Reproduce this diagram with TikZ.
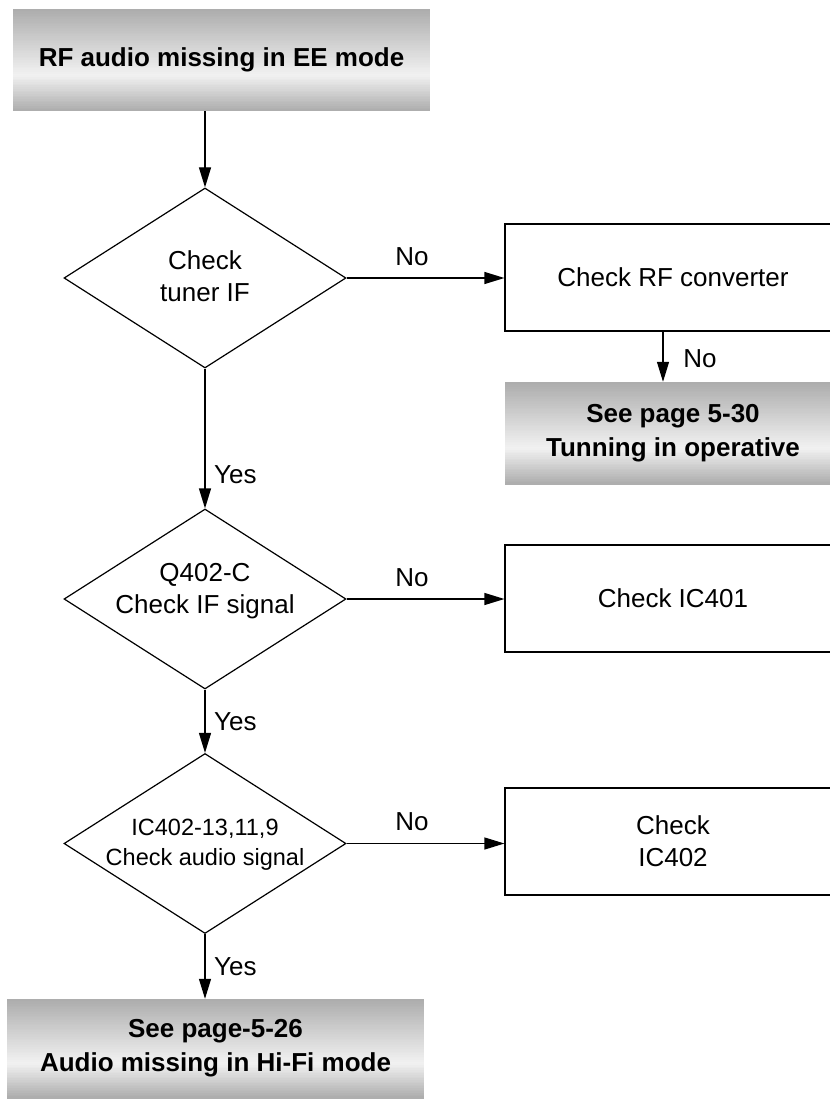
\documentclass[tikz,border=0pt]{standalone}
\usepackage{fontspec}
\setmainfont{Liberation Sans}
\usetikzlibrary{shapes.geometric,arrows.meta,calc}
\definecolor{gtop}{RGB}{172,172,172}
\definecolor{gmid}{RGB}{242,242,242}
\definecolor{gbot}{RGB}{166,166,166}
\begin{document}
\begin{tikzpicture}[x=1pt,y=-1pt,
  every node/.style={font=\fontsize{26}{32}\selectfont},
  grad/.style={shape=rectangle, inner sep=0pt, fill=gtop, draw=none,
    path picture={
      \foreach \i in {0,...,59}{
        \pgfmathsetmacro\ta{\i/60}
        \pgfmathsetmacro\tb{(\i+1.3)/60}
        \pgfmathsetmacro\tm{(\i+0.5)/60}
        \pgfmathsetmacro\p{(\tm<0.65) ? (100*\tm/0.65) : (100*(1-\tm)/0.35)}
        \fill[gmid!\p!gtop] ($(path picture bounding box.north west)!\ta!(path picture bounding box.south west)$) rectangle ($(path picture bounding box.north east)!\tb!(path picture bounding box.south east)$);
      }},
    font=\bfseries\fontsize{26}{34}\selectfont, align=center},
  dia/.style={draw, shape=diamond, minimum width=282pt, minimum height=180pt, inner sep=0pt, line width=1.2pt},
  dtext/.style={align=center, inner sep=0pt},
  box/.style={draw, rectangle, line width=1.2pt, minimum width=336pt, minimum height=107pt, inner sep=0pt, align=center},
  arr/.style={line width=1.2pt, -{Triangle[length=20pt,width=12pt]}},
  lbl/.style={inner sep=0pt}
]
\useasboundingbox (0,0) rectangle (829,1099);
% top start box
\node[grad, minimum width=417pt, minimum height=102pt] (start) at (221.5,60) {RF audio missing in EE mode};
% decision 1
\node[dia] (d1) at (205,278) {};
\node[dtext] (t1) at (205,276) {Check\\tuner IF};
\node[box] (rf) at (673,277.5) {Check RF converter};
\node[grad, minimum width=336pt, minimum height=102pt] (g2) at (673,433) {See page 5-30\\Tunning in operative};
% decision 2
\node[dia] (d2) at (205,599) {};
\node[dtext] (t2) at (205,591) {Q402-C\\Check IF signal};
\node[box] (ic401) at (673,598.5) {Check IC401};
% decision 3
\node[dia] (d3) at (205,843.5) {};
\node[dtext, font=\fontsize{23.5}{30}\selectfont] (t3) at (205,845) {IC402-13,11,9\\Check audio signal};
\node[box] (ic402) at (673,841.5) {Check\\ IC402};
% end box
\node[grad, minimum width=417pt, minimum height=99pt] (g3) at (215.5,1048.5) {See page-5-26\\Audio missing in Hi-Fi mode};
% connectors
\draw[arr] (start.south -| d1.north) -- (d1.north);
\draw[arr] (d1.east) -- (rf.west |- d1.east);
\draw[arr] ([xshift=-10pt]rf.south) -- ([xshift=-10pt]g2.north);
\draw[arr] (d1.south) -- (d2.north);
\draw[arr] (d2.east) -- (ic401.west |- d2.east);
\draw[arr] (d2.south) -- (d3.north);
\draw[arr] (d3.east) -- (ic402.west |- d3.east);
\draw[arr] (d3.south) -- (g3.north -| d3.south);
% labels
\node[lbl] (no1) at (412,257) {No};
\node[lbl] (no2) at (700,359) {No};
\node[lbl] (no3) at (412,578) {No};
\node[lbl] (no4) at (412,822) {No};
\node[lbl, anchor=west] (yes1) at (214,475) {Yes};
\node[lbl, anchor=west] (yes2) at (214,722) {Yes};
\node[lbl, anchor=west] (yes3) at (214,967) {Yes};
\end{tikzpicture}
\end{document}
